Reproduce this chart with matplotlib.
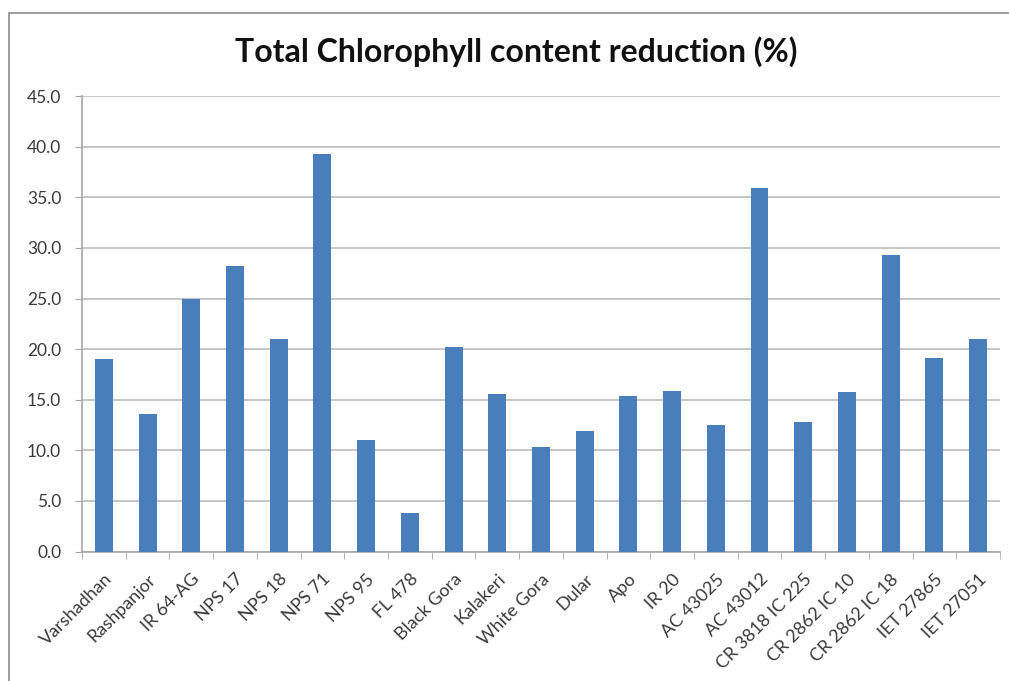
import numpy as np
import matplotlib
matplotlib.use("Agg")
from matplotlib import pyplot as plt
from matplotlib.patches import Rectangle

plt.rcParams["font.family"] = ["Lato", "DejaVu Sans"]

varieties = ["Varshadhan", "Rashpanjor", "IR 64-AG", "NPS 17", "NPS 18", "NPS 71",
             "NPS 95", "FL 478", "Black Gora", "Kalakeri", "White Gora", "Dular",
             "Apo", "IR 20", "AC 43025", "AC 43012", "CR 3818 IC 225",
             "CR 2862 IC 10", "CR 2862 IC 18", "IET 27865", "IET 27051"]
reduction = [19.0, 13.6, 25.0, 28.2, 21.0, 39.3, 11.0, 3.8, 20.2, 15.6, 10.3,
             11.9, 15.4, 15.9, 12.5, 35.9, 12.8, 15.8, 29.3, 19.1, 21.0]
y_ticks = [0, 5, 10, 15, 20, 25, 30, 35, 40, 45]

fig = plt.figure(figsize=(10.09, 6.81), dpi=100)

# chart frame, cut off on the right and bottom
fig.patches.append(Rectangle((9 / 1009, -0.1), 1.2, 1 - 13 / 681 + 0.1,
                             transform=fig.transFigure, fill=False,
                             edgecolor="#8c8c8c", linewidth=1.2))

ax = fig.add_axes([0.0813, 0.190, 0.9097, 0.669])
x = np.arange(len(varieties))
ax.bar(x, reduction, width=0.41, color="#4a7ebb", zorder=3)

ax.set_xlim(-0.5, len(varieties) - 0.5)
ax.set_ylim(0, 45)
ax.set_yticks(y_ticks)
ax.set_yticklabels([f"{v:.1f}" for v in y_ticks], fontsize=12.5, color="#3a3a3a")
ax.set_xticks(x)
ax.set_xticklabels(varieties, rotation=45, ha="right", rotation_mode="anchor",
                   fontsize=13, color="#3a3a3a")
ax.set_xticks(np.arange(-0.5, len(varieties)), minor=True)
ax.tick_params(axis="x", which="major", length=0, pad=14)
ax.tick_params(axis="x", which="minor", length=5, color="#a6a6a6")
ax.tick_params(axis="y", length=5, color="#a6a6a6", pad=10)

ax.grid(axis="y", color="#c0c0c0", linewidth=1.3, zorder=0)
for side in ["top", "right"]:
    ax.spines[side].set_visible(False)
for side in ["left", "bottom"]:
    ax.spines[side].set_color("#a6a6a6")
    ax.spines[side].set_linewidth(1.2)

fig.text(516 / 1009, 1 - 52 / 681, "Total Chlorophyll content reduction (%)",
         ha="center", va="center", fontsize=23, fontweight="bold", color="#111111")

fig.savefig("out.png", dpi=100)
